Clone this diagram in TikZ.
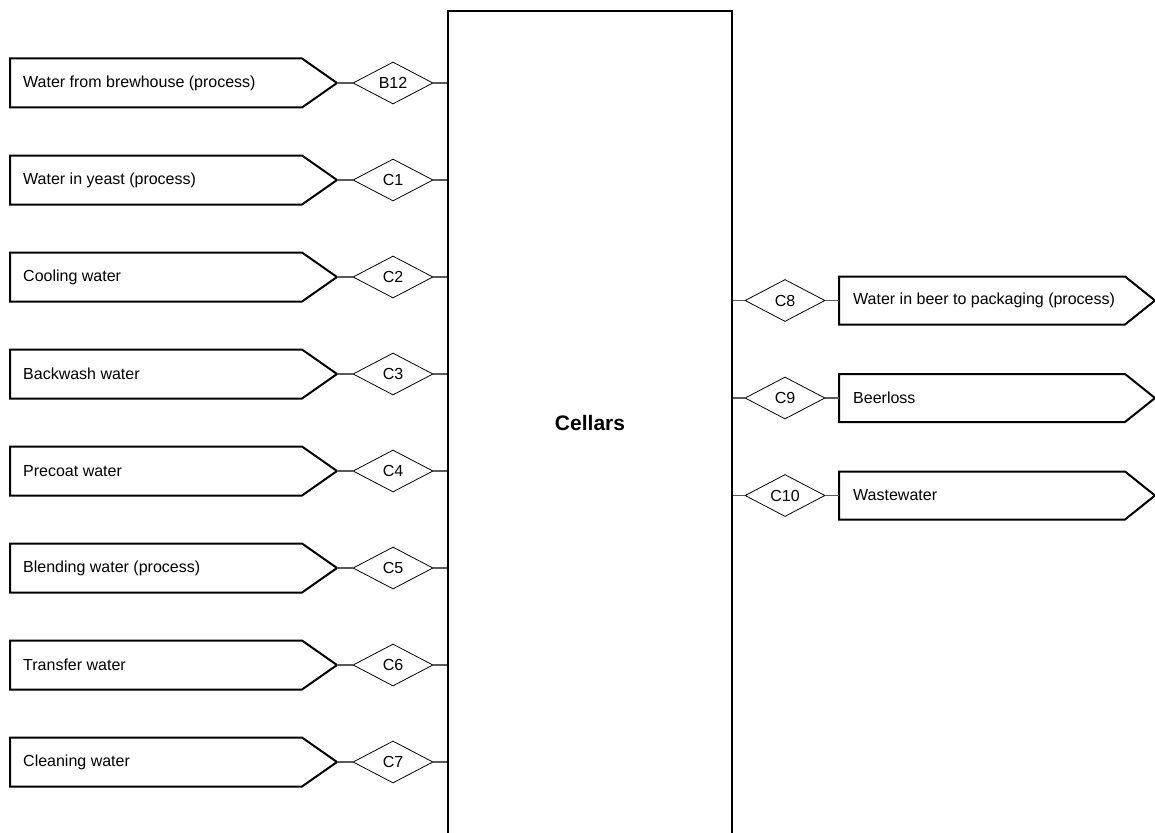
\documentclass[tikz,border=0pt]{standalone}
\usepackage{fontspec}
\setmainfont{Liberation Sans}
\usetikzlibrary{shapes.geometric}
\begin{document}
\begin{tikzpicture}[x=1pt,y=-1pt,
  flowbox/.style={draw, line width=2pt, line join=miter},
  lbl/.style={anchor=west, inner sep=0pt, font=\fontsize{16}{18}\selectfont},
  tag/.style={draw, diamond, minimum width=80pt, minimum height=42pt, inner sep=0pt, line width=0.8pt, font=\fontsize{16}{18}\selectfont},
  conn/.style={line width=1.2pt, black!65},
  unit/.style={draw, line width=2pt, minimum width=284pt, minimum height=824pt, anchor=north west, inner sep=0pt, font=\bfseries\fontsize{21}{24}\selectfont}]
\useasboundingbox (0,0) rectangle (1155,832);
\clip (0,0) rectangle (1155,832);
\node[unit] (cel) at (447,10) {Cellars};
% left inputs
\foreach \i/\t/\c in {0/Water from brewhouse (process)/B12,
                       1/Water in yeast (process)/C1,
                       2/Cooling water/C2,
                       3/Backwash water/C3,
                       4/Precoat water/C4,
                       5/Blending water (process)/C5,
                       6/Transfer water/C6,
                       7/Cleaning water/C7}{
  \pgfmathsetmacro{\yy}{83+97*\i}
  \draw[flowbox] (10,\yy-24.5) -- (302,\yy-24.5) -- (337,\yy) -- (302,\yy+24.5) -- (10,\yy+24.5) -- cycle;
  \coordinate (tipL\i) at (337,\yy);
  \node[lbl] (inL\i) at (23,\yy) {\t};
  \node[tag] (dL\i) at (393,\yy) {\c};
  \draw[conn] (tipL\i) -- (dL\i.west);
  \draw[conn] (dL\i.east) -- (dL\i.east -| cel.west);
}
% right outputs
\foreach \i/\t/\c in {0/Water in beer to packaging (process)/C8,
                       1/Beerloss/C9,
                       2/Wastewater/C10}{
  \pgfmathsetmacro{\yy}{300.5+97.5*\i}
  \draw[flowbox] (839,\yy-24) -- (1125,\yy-24) -- (1155,\yy) -- (1125,\yy+24) -- (839,\yy+24) -- cycle;
  \coordinate (boxR\i) at (839,\yy);
  \node[lbl] (outR\i) at (853,\yy) {\t};
  \node[tag] (dR\i) at (785,\yy) {\c};
  \draw[conn] (dR\i.west -| cel.east) -- (dR\i.west);
  \draw[conn] (dR\i.east) -- (boxR\i);
}
\end{tikzpicture}
\end{document}
